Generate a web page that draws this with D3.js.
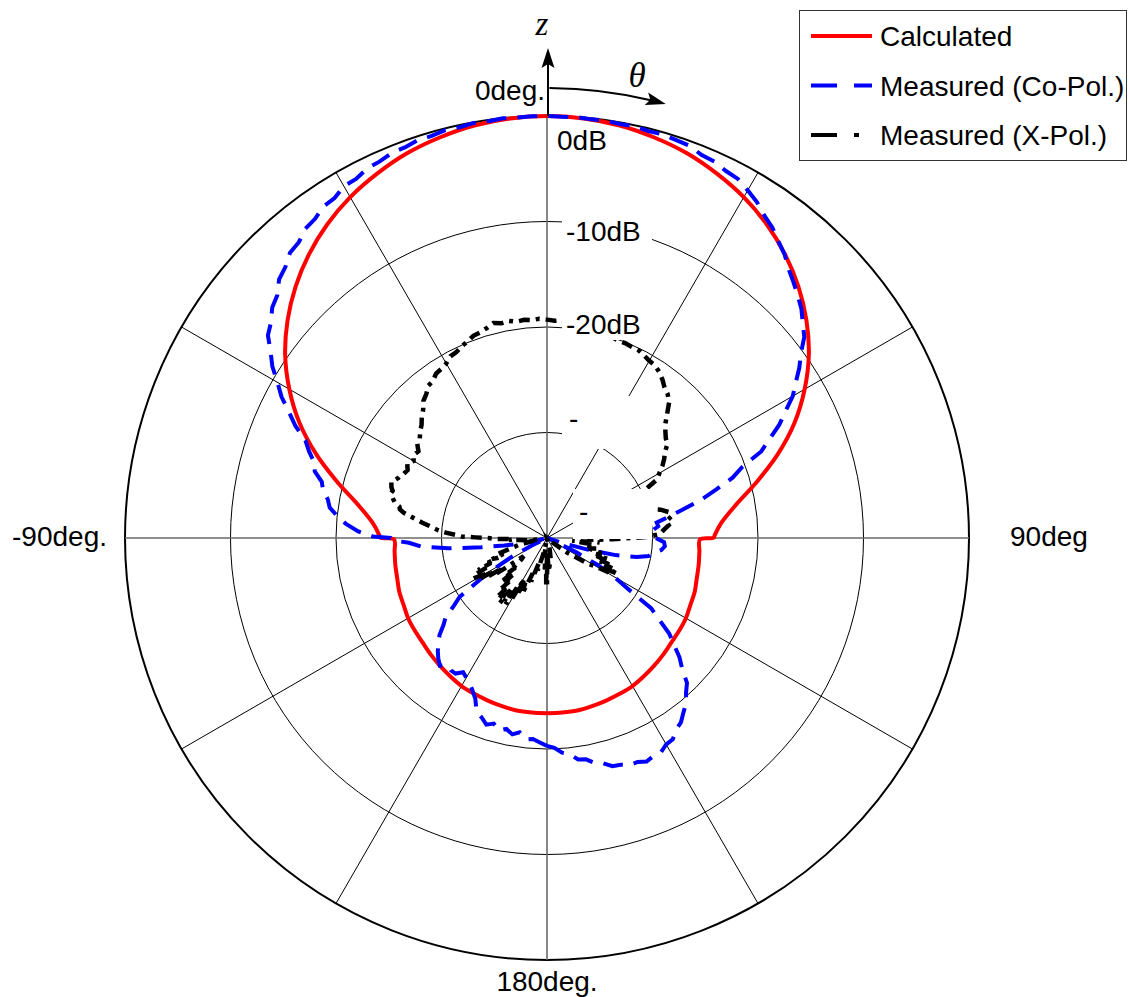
<!DOCTYPE html>
<html>
<head>
<meta charset="utf-8">
<script src="https://cdn.jsdelivr.net/npm/d3@7"></script>
<style>
  html, body { margin: 0; padding: 0; background: #fff; }
  svg { display: block; }
</style>
</head>
<body>
<svg id="chart" width="1130" height="997"></svg>
<script>
// ---- grid definitions ----
const dbTicks = [0, -10, -20, -30, -40];
const dbTickLabels = ["0dB", "-10dB", "-20dB", "-30dB", "-40dB"];
const spokeAngles = [0, 30, 60, 90, 120, 150, 180, 210, 240, 270, 300, 330];
const angleLabels = ["0deg.", "90deg", "180deg.", "-90deg."];
const seriesNames = ["Calculated", "Measured (Co-Pol.)", "Measured (X-Pol.)"];

// ---- calculated pattern (deg, dB) ----
const calcAngles = [-180,-175,-170,-165,-160,-155,-150,-145,-140,-135,-130,-125,-120,-115,-110,-105,-100,-95,-90.5,-89.9,-89,-85,-80,-75,-70,-65,-60,-55,-50,-45,-40,-35,-30,-25,-20,-15,-10,-5,
  0,5,10,15,20,25,30,35,40,45,50,55,60,65,70,75,80,85,89,89.9,90.5,95,100,105,110,115,120,125,130,135,140,145,150,155,160,165,170,175,180];
const calcValues = [-23.4,-23.4,-23.4,-23.5,-23.6,-23.7,-23.8,-24.0,-24.2,-24.4,-24.6,-24.7,-24.8,-25.0,-25.1,-25.3,-25.4,-25.5,-25.5,-24.2,-24.1,-23.4,-21.8,-19.4,-16.7,-14.1,-11.8,-9.7,-7.9,-6.3,-4.9,-3.7,-2.7,-1.9,-1.2,-0.7,-0.3,-0.08,
  0,-0.08,-0.3,-0.7,-1.2,-1.9,-2.7,-3.7,-4.9,-6.3,-7.9,-9.7,-11.8,-14.1,-16.7,-19.4,-21.8,-23.4,-24.1,-24.2,-25.5,-25.5,-25.4,-25.3,-25.1,-25.0,-24.8,-24.7,-24.6,-24.4,-24.2,-24.0,-23.8,-23.7,-23.6,-23.5,-23.4,-23.4,-23.4];

// ---- measured co-polar (deg, dB) ----
const coAngles = [-180,-178,-176,-174,-172,-170,-168,-166,-164,-162,-160,-158,-156,-154,-152,-150,-148,-146,-144,-142,-140,-138,-136,-134,-132,-130,-128,-126,-124,-122,-120,-118,-116,-114,-110,-106,-104,-102,-100,-98,-96,-94,-92,-91,-90,-89.5,-88,-86,-84,-82,-80,-78,-76,-74,-72,-70,-68,-66,-64,-62,-60,-58,-56,-54,-52,-50,-48,-46,-44,-42,-40,-38,-36,-34,-32,-30,-28,-26,-24,-22,-20,-18,-16,-14,-12,-10,-8,-6,-4,-2,
  0,2,4,6,8,10,12,14,16,18,20,22,24,26,28,30,32,34,36,38,40,42,44,46,48,50,52,54,56,58,60,62,64,66,68,70,72,74,76,78,80,82,84,86,88,90,92,94,96,98,100,102,104,106,108,110,112,114,116,118,120,122,124,126,128,130,132,134,136,138,140,142,144,146,148,150,152,154,156,158,160,162,164,166,168,170,172,174,176,178,180];
const coValues = [-20.3,-20.6,-20.9,-20.8,-21.4,-21.1,-21.5,-21.2,-21.7,-21.4,-21.9,-22.2,-23.3,-23.9,-24.4,-24.7,-25.0,-24.5,-24.5,-24.7,-24.2,-24.6,-25.1,-25.7,-26.3,-27.2,-27.8,-29.1,-30.0,-32.4,-34.4,-36.3,-38.4,-40.5,-41,-40.5,-39.0,-37.4,-35.9,-33.7,-30.6,-28.1,-26.9,-25.6,-25.2,-23.5,-22.1,-20.9,-20.0,-19.2,-18.9,-18.3,-18.0,-17.1,-16.8,-16.0,-15.3,-13.9,-12.8,-11.5,-10.5,-9.3,-8.4,-7.3,-6.8,-6.0,-5.6,-4.7,-4.3,-3.6,-3.4,-2.8,-2.6,-2.1,-2.0,-1.5,-1.45,-1.05,-0.95,-0.65,-0.6,-0.35,-0.35,-0.15,-0.2,-0.05,-0.1,0,-0.05,0,
  0,-0.05,0,-0.1,-0.05,-0.15,-0.1,-0.25,-0.2,-0.35,-0.45,-0.85,-0.95,-1.3,-1.45,-1.95,-2.45,-3.15,-3.65,-4.35,-4.95,-5.75,-6.35,-6.95,-7.55,-8.35,-9.05,-10.25,-11.15,-12.2,-13.1,-14.4,-15.5,-16.9,-18.1,-20.3,-21.5,-23.3,-24.9,-26.7,-28.2,-29.5,-29.4,-30.0,-29.7,-29.7,-28.9,-28.8,-29.1,-29.9,-30.2,-31.3,-33.3,-35.9,-38.4,-40.5,-41,-39.1,-36.9,-34.6,-32.7,-31.1,-28.1,-26.9,-25.3,-24.3,-23.1,-22.2,-20.9,-20.3,-19.5,-19.0,-18.4,-18.1,-17.5,-17.4,-17.0,-17.0,-16.8,-17.1,-17.1,-17.4,-17.5,-18.0,-18.2,-18.7,-18.8,-19.4,-19.6,-20.1,-20.3];

// ---- measured cross-polar (deg, dB) ----
const xAngles = [-180,-179,-178,-176,-174,-172,-170,-167,-164,-162,-160,-158,-156,-154,-152,-151,-150,-149,-148,-147,-146,-145,-144,-143,-142,-141,-140,-139,-138,-137,-136,-135,-134,-133,-132,-130,-128,-126,-125,-124,-123,-122,-121,-120,-119,-118,-117,-116,-115,-114,-113,-112,-111,-110,-108,-106,-104,-102,-100,-98,-96,-94,-93,-92,-91,-90,-89.5,-89,-88,-87,-86,-85,-84,-83,-82,-81,-80,-79,-78,-77,-76,-75,-74,-73,-72,-71,-70,-69,-68,-67,-66,-64,-62,-60,-58,-56,-54,-52,-50,-48,-46,-44,-42,-40,-38,-36,-34,-32,-30,-28,-26,-24,-22,-20,-18,-16,-14,-12,-10,-8,-6,-4,-2,
  0,2,4,6,8,10,12,14,16,18,20,22,24,26,28,30,32,34,36,38,40,42,44,46,48,50,52,54,56,58,60,62,63.5,66,70,74,76,78,80,82,84,86,88,89.5,91,93,95,96,98,100,102,104,106,108,109,110,111,112,113,114,115,116,117,118,119,120,122,124,126,130,135,140,150,160,166,170,174,177,179,180];
const xValues = [-38.2,-35.6,-37.8,-37,-38.8,-38.2,-39.5,-38.4,-36.8,-37.5,-35.6,-36.4,-34.2,-35.3,-34.0,-35.6,-33.4,-34.8,-32.6,-33.9,-32.8,-34.0,-32.4,-33.5,-32.6,-33.8,-32.9,-34.5,-33.6,-35.2,-34.1,-35.4,-34.2,-35.9,-35.1,-36.8,-37.2,-35.5,-34.0,-34.9,-33.2,-34.1,-32.5,-33.4,-32.1,-33.0,-32.4,-33.6,-32.8,-34.2,-33.6,-35.0,-34.4,-35.6,-35.1,-36.4,-37.2,-38.3,-39.2,-38.7,-38.0,-37.4,-36.4,-36.8,-35.2,-34.4,-33.2,-31.9,-31.3,-30.4,-29.7,-29.2,-28.7,-28.1,-27.5,-26.9,-26.2,-25.8,-25.7,-25.2,-25.0,-24.8,-24.6,-24.7,-24.5,-24.4,-24.3,-24.6,-24.8,-24.9,-25.1,-25.3,-25.0,-25.4,-25.1,-25.3,-24.8,-24.7,-24.3,-24.0,-23.5,-23.1,-22.5,-22.2,-21.7,-21.6,-21.2,-21.1,-20.9,-20.5,-20.4,-20.1,-19.9,-19.6,-19.5,-19.3,-19.0,-19.2,-19.1,-19.3,-19.2,-19.3,-19.2,
  -19.3,-19.4,-19.3,-19.5,-19.6,-19.6,-19.8,-19.9,-19.9,-20.0,-20.1,-20.1,-20.2,-20.2,-20.4,-20.6,-20.7,-21.0,-21.4,-21.9,-22.2,-22.7,-23.6,-24.4,-24.9,-25.3,-25.5,-26.2,-26.6,-27.1,-27.7,-28.2,-29.4,-30.3,-31.0,-30.1,-28.9,-28.2,-28.0,-28.6,-28.4,-28.9,-29.3,-30.6,-33.8,-36.2,-35.0,-37.6,-36.0,-36.4,-35.2,-35.9,-34.3,-35.1,-34.0,-35.0,-33.8,-34.8,-33.6,-34.5,-33.2,-34.1,-32.7,-33.8,-33.0,-34.4,-35.4,-36.9,-37.6,-39.4,-40.5,-41,-41,-40.5,-39,-38,-37.5,-36.8,-38.6,-35.6];

// ---- layout ----
const cx = 547, cy = 538, R = 422;
const FONT = "'Liberation Sans', Arial, Helvetica, sans-serif";
const FS = 28;
const svg = d3.select("#chart");

const r = d3.scaleLinear().domain([-40, 0]).range([0, R]).clamp(true);
const toRad = d => d * Math.PI / 180;
const pt = (deg, rr) => [cx + rr * Math.sin(toRad(deg)), cy - rr * Math.cos(toRad(deg))];

const g = svg.append("g");

// rings
g.selectAll("circle.ring").data(dbTicks.filter(d => d > -40)).join("circle")
  .attr("cx", cx).attr("cy", cy).attr("r", d => r(d))
  .attr("fill", "none").attr("stroke", "#000")
  .attr("stroke-width", d => d === 0 ? 2 : 1);

// spokes
g.selectAll("line.spoke").data(spokeAngles).join("line")
  .attr("x1", cx).attr("y1", cy)
  .attr("x2", d => pt(d, R)[0]).attr("y2", d => pt(d, R)[1])
  .attr("stroke", d => d % 90 === 0 ? "#6a6a6a" : "#000")
  .attr("stroke-width", d => d % 90 === 0 ? 1.6 : 1);

// pattern lines
const radial = (angles, values, curve) => d3.lineRadial()
  .angle((d, i) => toRad(angles[i]))
  .radius((d, i) => r(values[i]))
  .curve(curve)(values);

const plot = svg.append("g").attr("transform", `translate(${cx},${cy})`);
plot.append("path")
  .attr("d", radial(calcAngles, calcValues, d3.curveCatmullRom.alpha(0.5)))
  .attr("fill", "none").attr("stroke", "#ff0000").attr("stroke-width", 4);
plot.append("path")
  .attr("d", radial(coAngles, coValues, d3.curveLinear))
  .attr("fill", "none").attr("stroke", "#0000ff").attr("stroke-width", 4)
  .attr("stroke-dasharray", "20,11");
plot.append("path")
  .attr("d", radial(xAngles, xValues, d3.curveLinear))
  .attr("fill", "none").attr("stroke", "#000").attr("stroke-width", 4.5)
  .attr("stroke-dasharray", "11,6,4,6");

// dB labels with white backgrounds
const dbLabelPos = [
  { x: 557, y: 150, box: [553, 128, 615, 155] },
  { x: 566, y: 241, box: [562, 210, 652, 246] },
  { x: 566, y: 334, box: [562, 308, 647, 340] },
  { x: 569, y: 428, box: [562, 396, 650, 449] },
  { x: 579, y: 521, box: [573, 489, 652, 539] }
];
dbTickLabels.forEach((lab, i) => {
  const p = dbLabelPos[i];
  svg.append("rect")
    .attr("x", p.box[0]).attr("y", p.box[1])
    .attr("width", p.box[2] - p.box[0]).attr("height", p.box[3] - p.box[1])
    .attr("fill", "#fff");
  const t = svg.append("text")
    .attr("x", p.x).attr("y", p.y)
    .attr("font-family", FONT).attr("font-size", FS).attr("fill", "#000");
  if (i < 3) {
    t.text(lab);
  } else {
    // lower ring labels are masked by their own backgrounds; only the sign shows
    t.append("tspan").text(lab.slice(0, 1));
    t.append("tspan").attr("fill", "#fff").text(lab.slice(1));
  }
});

// angle labels
const angleLabelPos = [
  { x: 545, y: 100, anchor: "end" },
  { x: 1010, y: 546, anchor: "start" },
  { x: 547, y: 991, anchor: "middle" },
  { x: 107, y: 546, anchor: "end" }
];
angleLabels.forEach((lab, i) => {
  const p = angleLabelPos[i];
  svg.append("text")
    .attr("x", p.x).attr("y", p.y).attr("text-anchor", p.anchor)
    .attr("font-family", FONT).attr("font-size", FS).attr("fill", "#000")
    .text(lab);
});

// z axis with arrow
svg.append("line")
  .attr("x1", cx + 1).attr("y1", cy - R).attr("x2", cx + 1).attr("y2", 60)
  .attr("stroke", "#000").attr("stroke-width", 2);
const zTip = [cx + 1, 48];
svg.append("path")
  .attr("d", `M${zTip[0]},${zTip[1]} L${zTip[0] + 6.5},${zTip[1] + 20} L${zTip[0]},${zTip[1] + 16} L${zTip[0] - 6.5},${zTip[1] + 20} Z`)
  .attr("fill", "#000");
svg.append("text")
  .attr("x", 542).attr("y", 35).attr("text-anchor", "middle")
  .attr("font-family", "'Liberation Serif', 'Times New Roman', serif")
  .attr("font-style", "italic").attr("font-size", 33).text("z");

// theta arrow along an arc
const thR = 450, thEnd = 15.3;
const arc = d3.arc().innerRadius(thR).outerRadius(thR).startAngle(toRad(0.3)).endAngle(toRad(thEnd - 1.5));
svg.append("path")
  .attr("transform", `translate(${cx},${cy})`)
  .attr("d", arc()).attr("fill", "none").attr("stroke", "#000").attr("stroke-width", 2);
{
  const tip = pt(thEnd, thR);
  const tx = Math.cos(toRad(thEnd)), ty = Math.sin(toRad(thEnd));
  const nx = -ty, ny = tx;
  const L = 20, Wd = 6.5, N = 16;
  const b1 = [tip[0] - L * tx + Wd * nx, tip[1] - L * ty + Wd * ny];
  const b2 = [tip[0] - L * tx - Wd * nx, tip[1] - L * ty - Wd * ny];
  const m = [tip[0] - N * tx, tip[1] - N * ty];
  svg.append("path")
    .attr("d", `M${tip[0]},${tip[1]} L${b1[0]},${b1[1]} L${m[0]},${m[1]} L${b2[0]},${b2[1]} Z`)
    .attr("fill", "#000");
}
svg.append("text")
  .attr("x", 637).attr("y", 87).attr("text-anchor", "middle")
  .attr("font-family", "'Liberation Serif', 'Times New Roman', serif")
  .attr("font-style", "italic").attr("font-size", 35).text("θ");

// legend
const legend = svg.append("g");
legend.append("rect")
  .attr("x", 799.5).attr("y", 10.5).attr("width", 327).attr("height", 150)
  .attr("fill", "#fff").attr("stroke", "#333").attr("stroke-width", 1);
const legendStyles = [
  { color: "#ff0000", dash: null, w: 4 },
  { color: "#0000ff", dash: "26,17", w: 4 },
  { color: "#000", dash: "26,17,5,17", w: 4 }
];
seriesNames.forEach((name, i) => {
  const y = 36 + i * 49.5;
  const s = legendStyles[i];
  legend.append("line")
    .attr("x1", 811).attr("x2", 872).attr("y1", y).attr("y2", y)
    .attr("stroke", s.color).attr("stroke-width", s.w)
    .attr("stroke-dasharray", s.dash);
  legend.append("text")
    .attr("x", 880).attr("y", y + 10)
    .attr("font-family", FONT).attr("font-size", FS).text(name);
});
</script>
</body>
</html>
